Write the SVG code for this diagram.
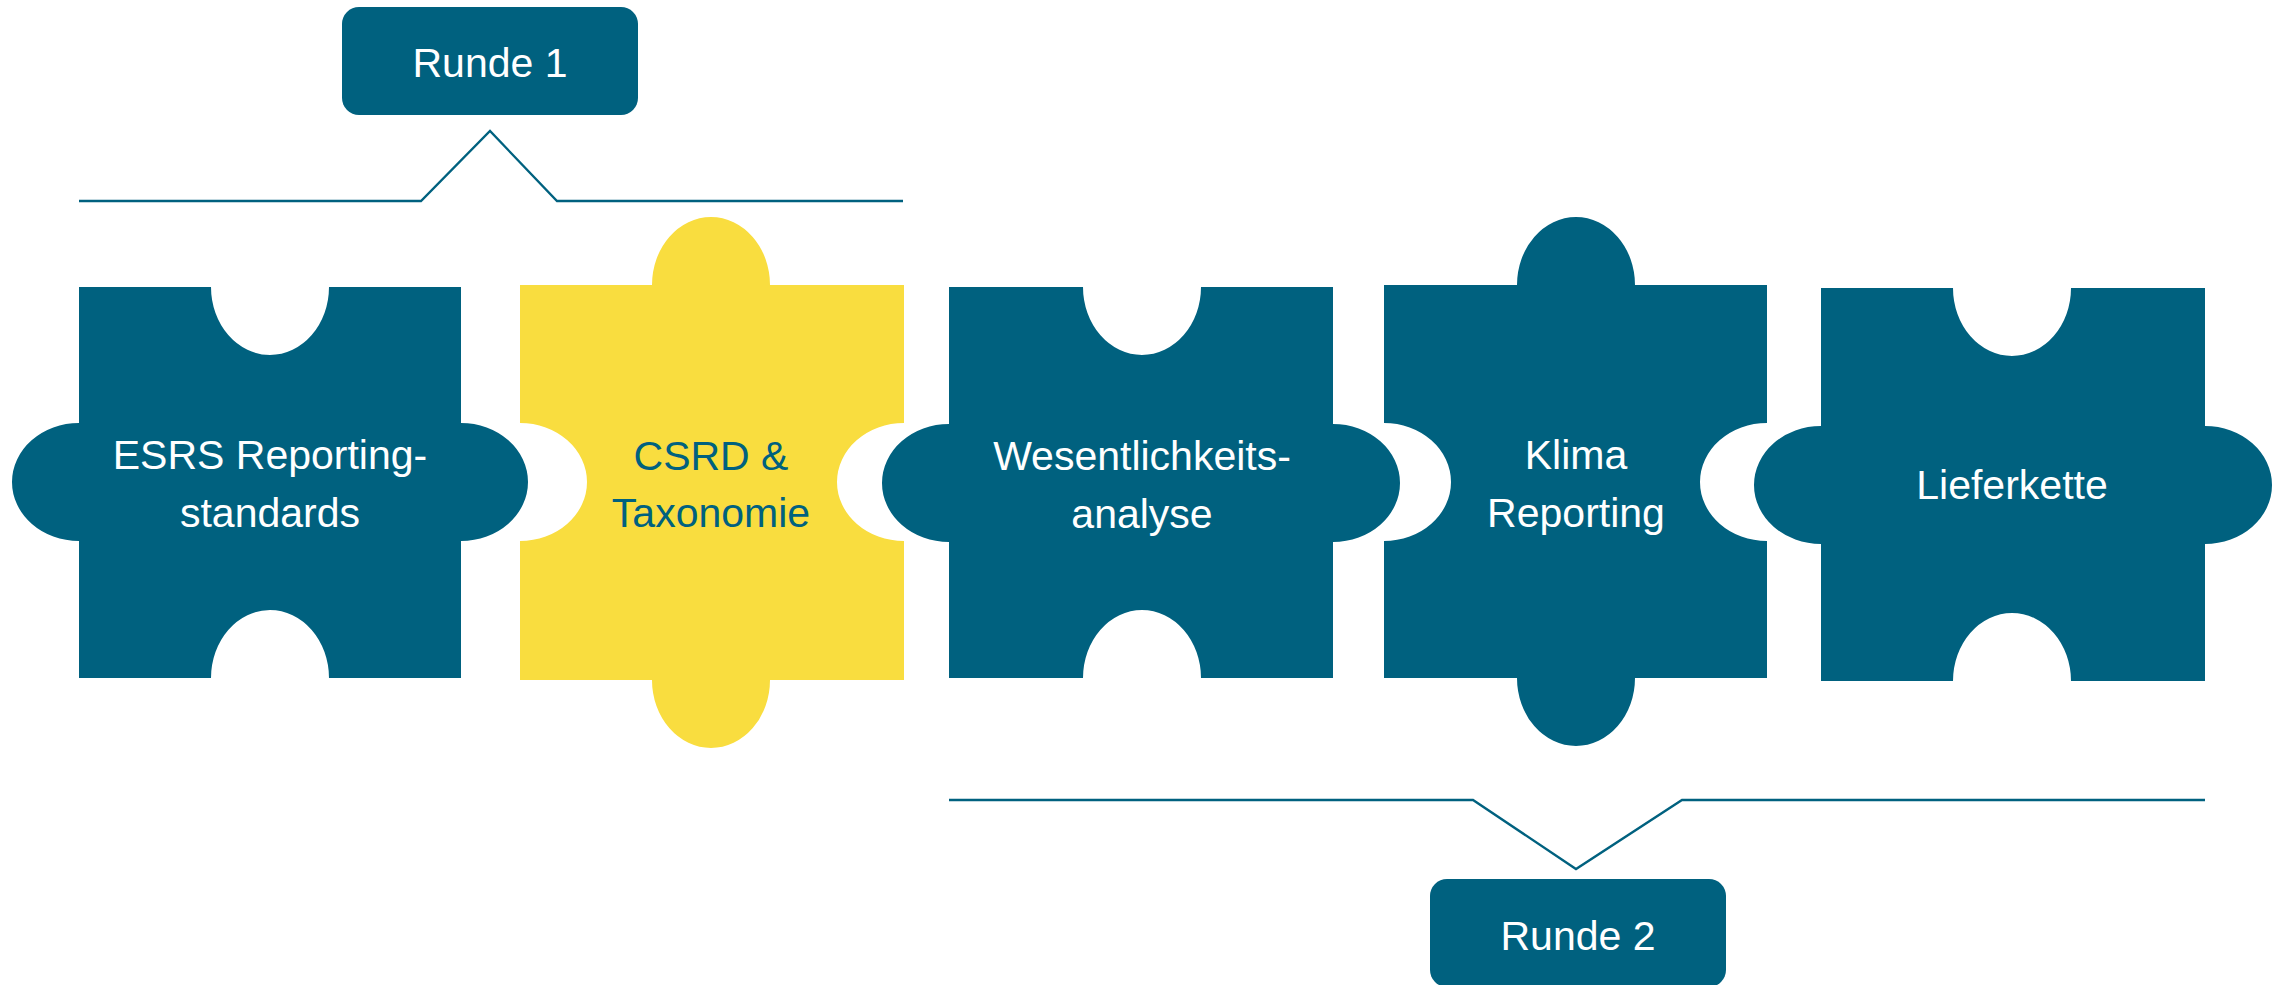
<svg xmlns="http://www.w3.org/2000/svg" width="2282" height="985" viewBox="0 0 2282 985">
  <style>
    .teal { fill: #00617F; }
    .yellow { fill: #F9DD3F; }
    .lbl { font-family: "Liberation Sans", Arial, sans-serif; font-size: 41px; text-anchor: middle; }
    .w { fill: #FFFFFF; }
    .d { fill: #00617F; }
    .br { fill: none; stroke: #00617F; stroke-width: 2.3; stroke-linejoin: miter; }
  </style>
  <rect width="2282" height="985" fill="#FFFFFF"/>

  <g id="connectors">
    <polyline class="br" points="79,201 421,201 490,131 557,201 903,201"/>
    <polyline class="br" points="949,800 1473,800 1576,869 1682,800 2205,800"/>
  </g>

  <g id="runde1">
    <rect class="teal" x="342" y="7" width="296" height="108" rx="17"/>
    <text class="lbl w" x="490" y="77">Runde 1</text>
  </g>

  <g id="runde2">
    <rect class="teal" x="1430" y="879" width="296" height="108" rx="17"/>
    <text class="lbl w" x="1578" y="950">Runde 2</text>
  </g>

  <g id="esrs">
    <path class="teal" d="M79,287 H211 A59,68 0 0 0 329,287 H461 V423 A67,59 0 0 1 461,541 V678 H329 A59,68 0 0 0 211,678 H79 V541 A67,59 0 0 1 79,423 Z"/>
    <text class="lbl w" x="270" y="469">ESRS Reporting-</text>
    <text class="lbl w" x="270" y="527">standards</text>
  </g>

  <g id="csrd">
    <path class="yellow" d="M520,285 H652 A59,68 0 0 1 770,285 H904 V423 A67,59 0 0 0 904,541 V680 H770 A59,68 0 0 1 652,680 H520 V541 A67,59 0 0 0 520,423 Z"/>
    <text class="lbl d" x="711" y="470">CSRD &amp;</text>
    <text class="lbl d" x="711" y="527">Taxonomie</text>
  </g>

  <g id="wesentlichkeit">
    <path class="teal" d="M949,287 H1083 A59,68 0 0 0 1201,287 H1333 V424 A67,59 0 0 1 1333,542 V678 H1201 A59,68 0 0 0 1083,678 H949 V542 A67,59 0 0 1 949,424 Z"/>
    <text class="lbl w" x="1142" y="470">Wesentlichkeits-</text>
    <text class="lbl w" x="1142" y="528">analyse</text>
  </g>

  <g id="klima">
    <path class="teal" d="M1384,285 H1517 A59,68 0 0 1 1635,285 H1767 V423 A67,59 0 0 0 1767,541 V678 H1635 A59,68 0 0 1 1517,678 H1384 V541 A67,59 0 0 0 1384,423 Z"/>
    <text class="lbl w" x="1576" y="469">Klima</text>
    <text class="lbl w" x="1576" y="527">Reporting</text>
  </g>

  <g id="lieferkette">
    <path class="teal" d="M1821,288 H1953 A59,68 0 0 0 2071,288 H2205 V426 A67,59 0 0 1 2205,544 V681 H2071 A59,68 0 0 0 1953,681 H1821 V544 A67,59 0 0 1 1821,426 Z"/>
    <text class="lbl w" x="2012" y="499">Lieferkette</text>
  </g>
</svg>
